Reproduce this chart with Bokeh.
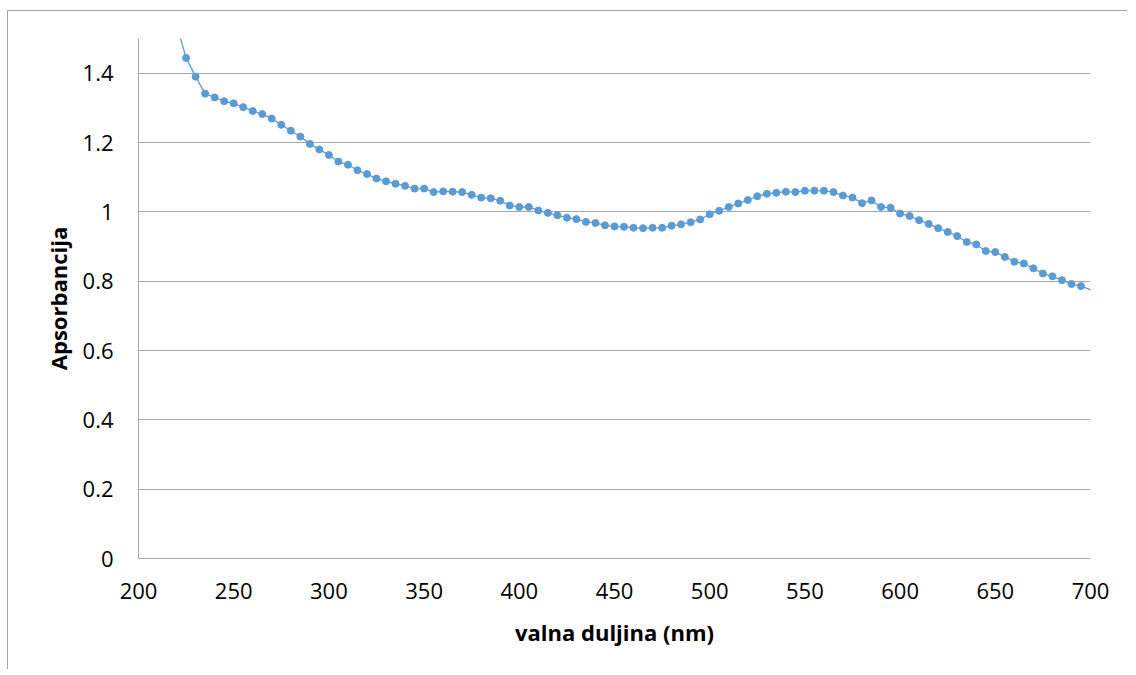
from bokeh.plotting import figure
from bokeh.models import FixedTicker, CustomJSTickFormatter, Range1d
from bokeh.embed import file_html
from bokeh.resources import INLINE

wavelength_nm = [220, 225, 230, 235, 240, 245, 250, 255, 260, 265, 270, 275, 280, 285, 290,
                 295, 300, 305, 310, 315, 320, 325, 330, 335, 340, 345, 350, 355, 360, 365,
                 370, 375, 380, 385, 390, 395, 400, 405, 410, 415, 420, 425, 430, 435, 440,
                 445, 450, 455, 460, 465, 470, 475, 480, 485, 490, 495, 500, 505, 510, 515,
                 520, 525, 530, 535, 540, 545, 550, 555, 560, 565, 570, 575, 580, 585, 590,
                 595, 600, 605, 610, 615, 620, 625, 630, 635, 640, 645, 650, 655, 660, 665,
                 670, 675, 680, 685, 690, 695, 705]
absorbance = [1.540, 1.444, 1.390, 1.341, 1.330, 1.319, 1.313, 1.302, 1.291, 1.282, 1.269,
              1.251, 1.234, 1.217, 1.196, 1.180, 1.164, 1.145, 1.136, 1.120, 1.109, 1.096,
              1.088, 1.081, 1.075, 1.067, 1.067, 1.057, 1.059, 1.058, 1.057, 1.049, 1.041,
              1.039, 1.032, 1.018, 1.014, 1.014, 1.004, 0.997, 0.990, 0.983, 0.979, 0.971,
              0.968, 0.961, 0.958, 0.957, 0.954, 0.953, 0.954, 0.954, 0.960, 0.964, 0.970,
              0.978, 0.993, 1.003, 1.014, 1.024, 1.034, 1.045, 1.052, 1.055, 1.058, 1.057,
              1.061, 1.061, 1.061, 1.057, 1.047, 1.041, 1.025, 1.033, 1.014, 1.012, 0.995,
              0.988, 0.976, 0.965, 0.953, 0.942, 0.930, 0.913, 0.906, 0.887, 0.884, 0.870,
              0.856, 0.851, 0.837, 0.822, 0.814, 0.803, 0.792, 0.786, 0.764]

x_ticks = [200, 250, 300, 350, 400, 450, 500, 550, 600, 650, 700]
y_ticks = [0, 0.2, 0.4, 0.6, 0.8, 1.0, 1.2, 1.4]

x_label = "valna duljina (nm)"
y_label = "Apsorbancija"

COLOR = "#5B9BD5"
GRID = "#a6a6a6"
FONT = "Open Sans"

p = figure(width=1120, height=659, output_backend="svg", toolbar_location=None,
           x_range=Range1d(200, 700), y_range=Range1d(0, 1.5),
           min_border_left=130, min_border_right=38, min_border_top=27, min_border_bottom=112)

p.line(wavelength_nm, absorbance, line_color=COLOR, line_width=1.3)
p.scatter(wavelength_nm, absorbance, size=7, fill_color=COLOR, line_color=COLOR)

p.outline_line_color = None
p.background_fill_color = "white"
p.border_fill_color = "white"
p.styles = {"border-left": "1px solid #a6a6a6", "border-top": "1px solid #a6a6a6",
            "margin-left": "7px", "margin-top": "10px"}

p.xaxis.ticker = FixedTicker(ticks=x_ticks)
p.yaxis.ticker = FixedTicker(ticks=y_ticks)
p.yaxis.formatter = CustomJSTickFormatter(code="return String(Math.round(tick*10)/10);")

p.xgrid.visible = False
p.ygrid.grid_line_color = GRID
p.ygrid.grid_line_width = 1

for ax in (p.xaxis, p.yaxis):
    ax.axis_line_color = GRID
    ax.axis_line_width = 1
    ax.major_tick_line_color = None
    ax.minor_tick_line_color = None
    ax.major_tick_out = 0
    ax.major_tick_in = 0
    ax.major_label_text_font = FONT
    ax.major_label_text_font_size = "22px"
    ax.major_label_text_color = "#000000"
    ax.axis_label_text_font = FONT
    ax.axis_label_text_font_size = "22px"
    ax.axis_label_text_font_style = "bold"
    ax.axis_label_text_color = "#000000"

p.xaxis.axis_label = x_label
p.yaxis.axis_label = y_label
p.xaxis.major_label_standoff = 24
p.xaxis.axis_label_standoff = 15
p.yaxis.major_label_standoff = 25
p.yaxis.axis_label_standoff = 7

open("out.html", "w").write(file_html(p, INLINE))
